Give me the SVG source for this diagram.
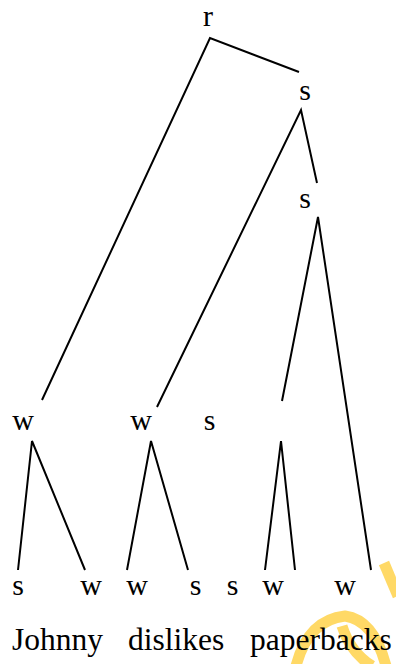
<svg xmlns="http://www.w3.org/2000/svg" width="396" height="664" viewBox="0 0 396 664">
  <style>
    .lbl { font-family: "Liberation Serif", "Times New Roman", serif; font-size: 30px; fill: #000; text-anchor: middle; }
    .word { font-family: "Liberation Serif", "Times New Roman", serif; font-size: 31.5px; fill: #000; }
    .edge { stroke: #000; stroke-width: 2; fill: none; stroke-linecap: butt; }
    .mark { stroke: #FFD966; stroke-width: 11; fill: none; stroke-linecap: butt; }
  </style>
  <rect width="396" height="664" fill="#fff"/>

  <!-- faint watermark strokes behind the text -->
  <g id="watermark">
    <path class="mark" d="M 384 563 L 398 596"/>
    <path class="mark" d="M 296 666 Q 308 620 345 616 Q 374 620 386 666"/>
    <path class="mark" d="M 342 626 Q 350 652 372 666"/>
  </g>

  <!-- tree edges -->
  <g id="connectors">
    <path class="edge" d="M 42 400 L 210 38 L 299 72"/>
    <path class="edge" d="M 157 407 L 301 110 L 317 183"/>
    <path class="edge" d="M 282 401 L 318 217 L 371 570"/>
    <path class="edge" d="M 18 570 L 32 441 L 85 570"/>
    <path class="edge" d="M 127 570 L 151 441 L 188 570"/>
    <path class="edge" d="M 265 570 L 281 441 L 295 570"/>
  </g>

  <g id="n-r"><text class="lbl" x="208" y="26">r</text></g>
  <g id="n-s1"><text class="lbl" x="305" y="100">s</text></g>
  <g id="n-s2"><text class="lbl" x="305" y="208">s</text></g>
  <g id="n-w1"><text class="lbl" x="23" y="430">w</text></g>
  <g id="n-w2"><text class="lbl" x="141" y="430">w</text></g>
  <g id="n-s3"><text class="lbl" x="209.5" y="430">s</text></g>

  <g id="n-johnny-s"><text class="lbl" x="18" y="595">s</text></g>
  <g id="n-johnny-w"><text class="lbl" x="91" y="595">w</text></g>
  <g id="n-dislikes-w"><text class="lbl" x="137" y="595">w</text></g>
  <g id="n-dislikes-s"><text class="lbl" x="195.5" y="595">s</text></g>
  <g id="n-paper-s"><text class="lbl" x="232.5" y="595">s</text></g>
  <g id="n-paper-w"><text class="lbl" x="273" y="595">w</text></g>
  <g id="n-backs-w"><text class="lbl" x="345" y="595">w</text></g>

  <g id="words">
    <text class="word" x="12" y="650">Johnny</text>
    <text class="word" x="128" y="650">dislikes</text>
    <text class="word" x="250" y="650">paperbacks</text>
  </g>
</svg>
